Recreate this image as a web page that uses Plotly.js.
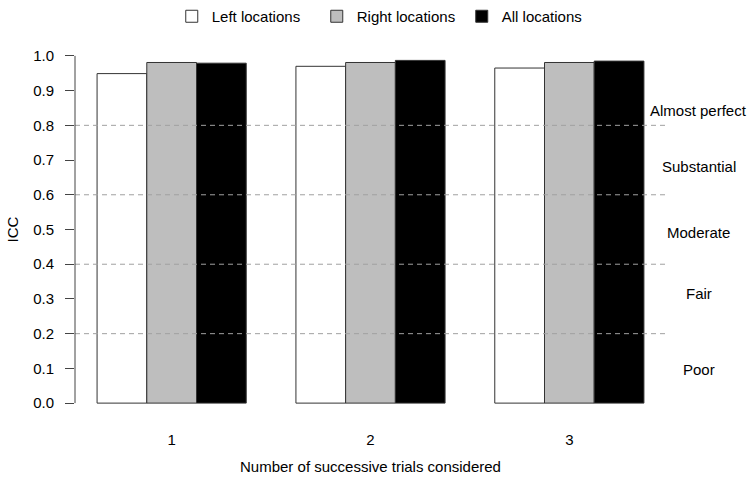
<!DOCTYPE html>
<html>
<head>
<meta charset="utf-8">
<script src="https://cdn.plot.ly/plotly-3.0.1.min.js"></script>
<style>html,body{margin:0;padding:0;background:#fff;}#chart{width:750px;height:479px;}</style>
</head>
<body>
<div id="chart"></div>
<script>
const categories = ["1", "2", "3"];
const seriesNames = ["Left locations", "Right locations", "All locations"];
const leftValues = [0.949, 0.970, 0.965];
const rightValues = [0.981, 0.981, 0.981];
const allValues = [0.979, 0.987, 0.985];
const seriesColors = ["#FFFFFF", "#BEBEBE", "#000000"];
const yTickVals = [0, 0.1, 0.2, 0.3, 0.4, 0.5, 0.6, 0.7, 0.8, 0.9, 1.0];
const thresholds = [0.2, 0.4, 0.6, 0.8];
const bandLabels = ["Almost perfect", "Substantial", "Moderate", "Fair", "Poor"];
const bandLabelY = [0.843, 0.682, 0.492, 0.315, 0.098];

const FONT = "Liberation Sans, Arial, sans-serif";
const allSeries = [leftValues, rightValues, allValues];

const data = allSeries.map((vals, i) => ({
  type: "bar",
  name: seriesNames[i],
  x: categories,
  y: vals,
  marker: {color: seriesColors[i], line: {color: "#333333", width: 1}},
  hoverinfo: "x+y+name"
}));

const shapes = thresholds.map(t => ({
  type: "line", xref: "paper", yref: "y", x0: 0, x1: 1, y0: t, y1: t,
  line: {color: "#A0A0A0", width: 1, dash: "5px,4px"}, layer: "above"
}));
shapes.push({
  type: "line", xref: "paper", yref: "y", x0: 0, x1: 0,
  y0: yTickVals[0], y1: yTickVals[yTickVals.length - 1],
  line: {color: "#444444", width: 1}, layer: "above"
});

const annotations = bandLabels.map((lab, i) => ({
  text: lab, xref: "paper", yref: "y", x: 1.055, y: bandLabelY[i],
  xanchor: "center", yanchor: "middle", showarrow: false,
  font: {family: FONT, size: 15, color: "#000"}
}));

const layout = {
  width: 750, height: 479,
  margin: {l: 75, r: 84, t: 42, b: 62},
  paper_bgcolor: "#fff", plot_bgcolor: "#fff",
  font: {family: FONT, size: 15, color: "#000"},
  barmode: "group", bargap: 0.25, bargroupgap: 0,
  showlegend: true,
  legend: {orientation: "h", x: 0.519, xanchor: "center", xref: "container",
           y: 1, yanchor: "top", yref: "container",
           entrywidth: 100, entrywidthmode: "pixels",
           font: {family: FONT, size: 15, color: "#000"}, traceorder: "normal"},
  xaxis: {
    type: "category", range: [-0.486, 2.486],
    showline: false, showgrid: false, zeroline: false, ticks: "",
    ticklabelstandoff: 12,
    tickfont: {family: FONT, size: 15, color: "#000"},
    title: {text: "Number of successive trials considered", standoff: 14,
            font: {family: FONT, size: 15, color: "#000"}}
  },
  yaxis: {
    range: [-0.04, 1.04], tickvals: yTickVals, tickformat: ".1f",
    showline: false, showgrid: false, zeroline: false,
    ticks: "outside", ticklen: 9, tickcolor: "#444444", tickwidth: 1,
    ticklabelstandoff: 8,
    tickfont: {family: FONT, size: 15, color: "#000"},
    title: {text: "ICC", standoff: 10, font: {family: FONT, size: 15, color: "#000"}}
  },
  shapes: shapes,
  annotations: annotations
};

Plotly.newPlot("chart", data, layout, {displayModeBar: false, staticPlot: true});
</script>
</body>
</html>
